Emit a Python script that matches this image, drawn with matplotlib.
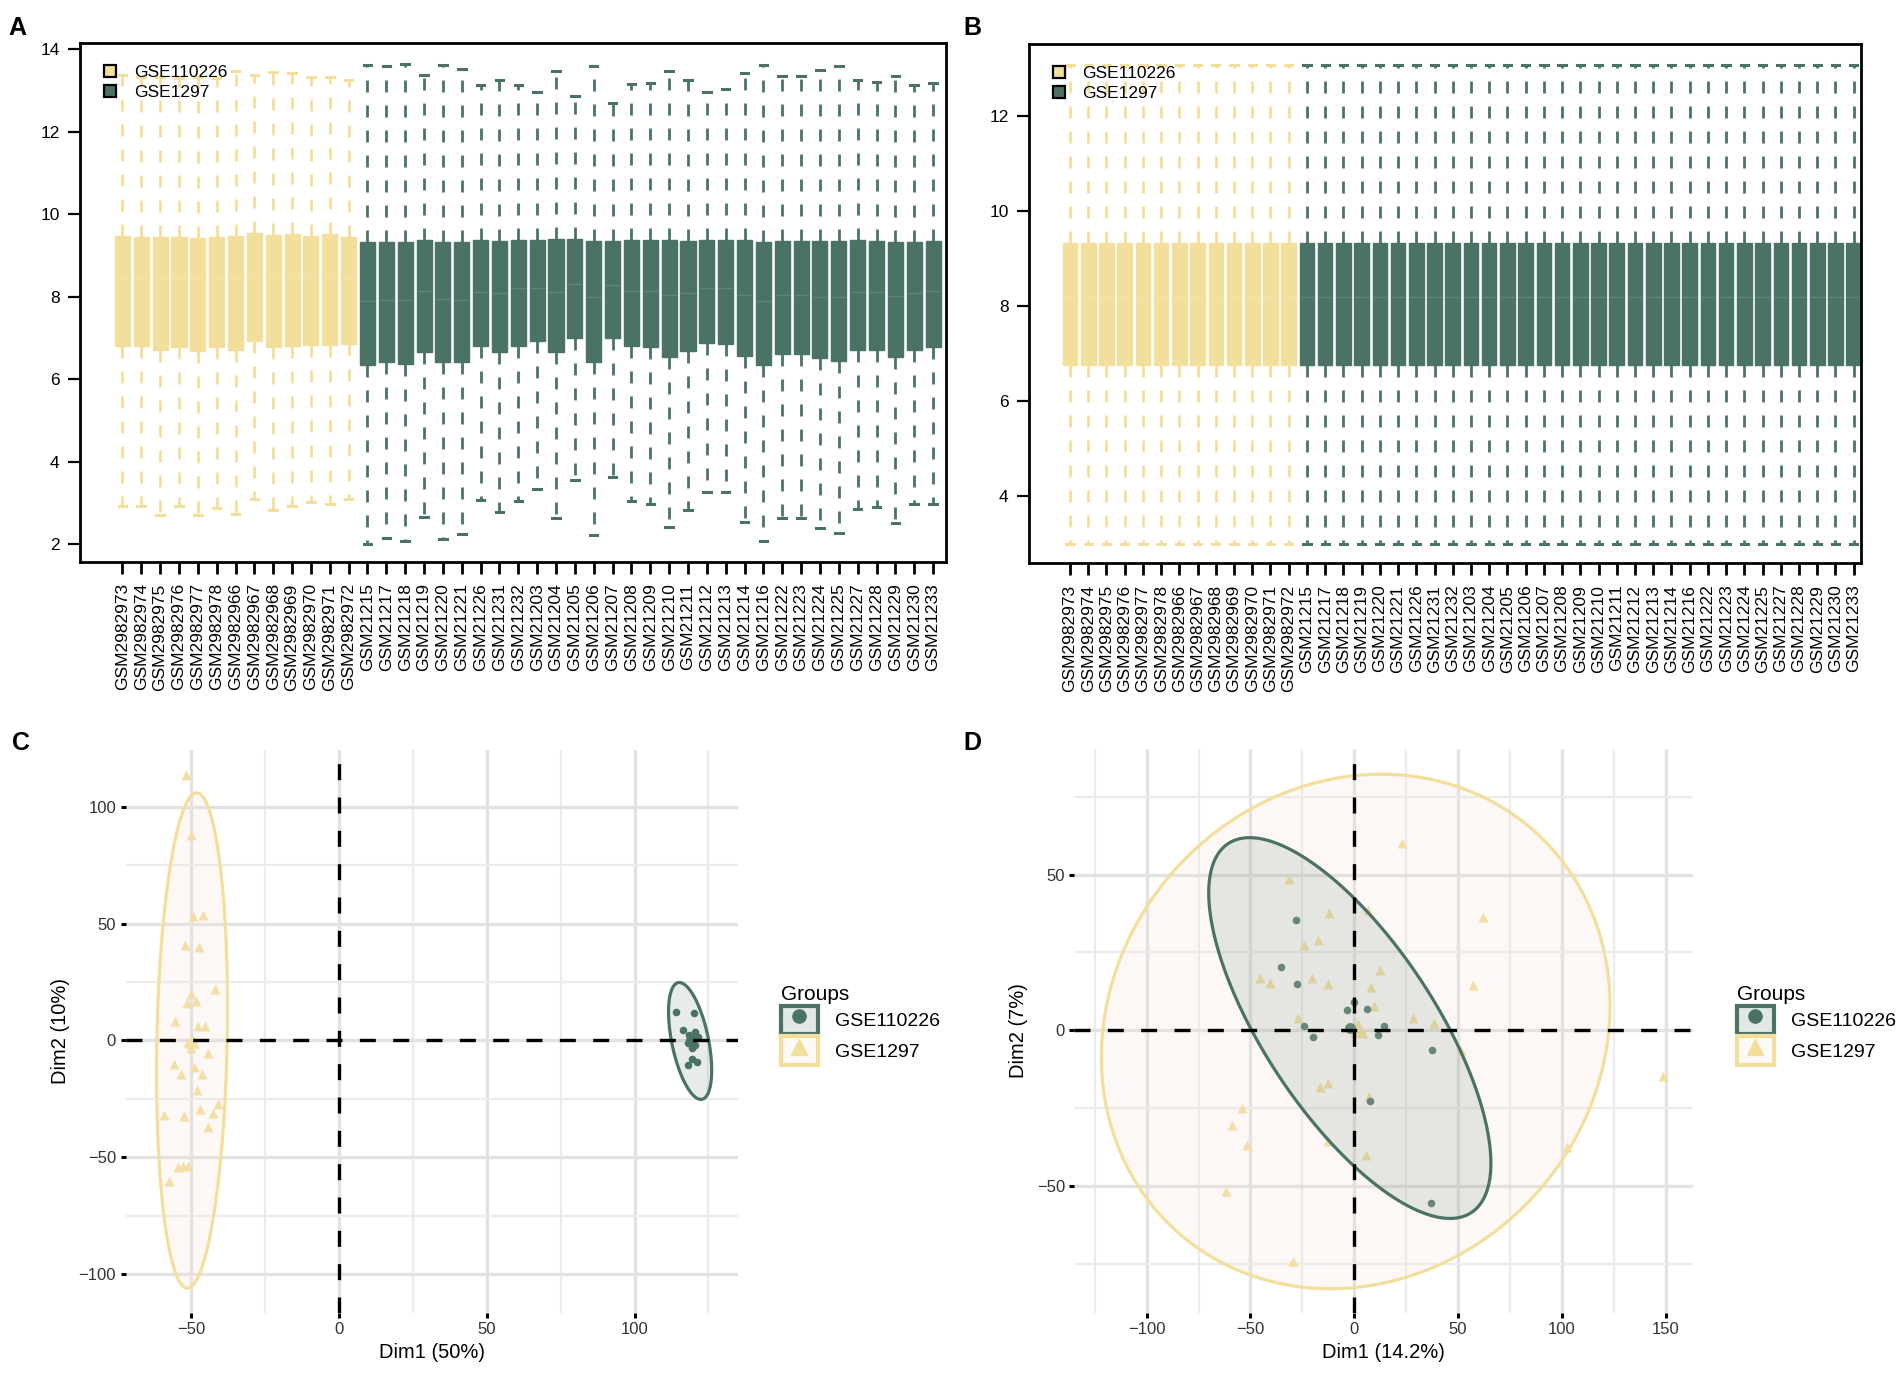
import numpy as np
import matplotlib

matplotlib.use("Agg")
import matplotlib.pyplot as plt
from matplotlib.colors import to_rgba
from matplotlib.lines import Line2D
from matplotlib.patches import Patch
from matplotlib.ticker import MultipleLocator

plt.rcParams["font.family"] = ["Liberation Sans", "DejaVu Sans"]

YELLOW = "#F3DF9C"
GREEN = "#4A7366"

# ---- sample names (same order in A and B) ----
samples_gse110226 = [
    "GSM2982973", "GSM2982974", "GSM2982975", "GSM2982976", "GSM2982977",
    "GSM2982978", "GSM2982966", "GSM2982967", "GSM2982968", "GSM2982969",
    "GSM2982970", "GSM2982971", "GSM2982972",
]
samples_gse1297 = [
    "GSM21215", "GSM21217", "GSM21218", "GSM21219", "GSM21220", "GSM21221",
    "GSM21226", "GSM21231", "GSM21232", "GSM21203", "GSM21204", "GSM21205",
    "GSM21206", "GSM21207", "GSM21208", "GSM21209", "GSM21210", "GSM21211",
    "GSM21212", "GSM21213", "GSM21214", "GSM21216", "GSM21222", "GSM21223",
    "GSM21224", "GSM21225", "GSM21227", "GSM21228", "GSM21229", "GSM21230",
    "GSM21233",
]

# ---- panel A: raw expression boxplots ----
a_y_q1 = [6.81, 6.81, 6.70, 6.78, 6.69, 6.77, 6.72, 6.92, 6.77, 6.81, 6.83, 6.83, 6.85]
a_y_med = [8.45, 8.45, 8.44, 8.45, 8.43, 8.44, 8.45, 8.55, 8.47, 8.50, 8.47, 8.50, 8.45]
a_y_q3 = [9.46, 9.45, 9.45, 9.45, 9.43, 9.44, 9.47, 9.55, 9.49, 9.51, 9.47, 9.51, 9.45]
a_y_lo = [2.92, 2.92, 2.70, 2.92, 2.70, 2.89, 2.73, 3.10, 2.84, 2.92, 3.03, 2.97, 3.10]
a_y_hi = [13.37, 13.33, 13.33, 13.30, 13.33, 13.30, 13.48, 13.37, 13.44, 13.41, 13.33, 13.33, 13.24]

a_g_q1 = [6.35, 6.41, 6.38, 6.65, 6.41, 6.43, 6.81, 6.67, 6.81, 6.92, 6.65, 7.01, 6.43, 7.01, 6.80,
          6.78, 6.54, 6.68, 6.89, 6.86, 6.57, 6.35, 6.62, 6.62, 6.51, 6.45, 6.70, 6.70, 6.54, 6.72, 6.78]
a_g_med = [7.90, 7.92, 7.92, 8.15, 7.95, 7.93, 8.12, 8.10, 8.20, 8.22, 8.12, 8.30, 8.00, 8.28, 8.15,
           8.15, 8.05, 8.10, 8.20, 8.22, 8.05, 7.90, 8.05, 8.05, 8.00, 8.00, 8.12, 8.12, 8.02, 8.10, 8.15]
a_g_q3 = [9.32, 9.32, 9.32, 9.38, 9.32, 9.32, 9.37, 9.34, 9.37, 9.37, 9.41, 9.41, 9.34, 9.34, 9.38,
          9.37, 9.37, 9.35, 9.37, 9.38, 9.37, 9.32, 9.35, 9.35, 9.34, 9.35, 9.37, 9.34, 9.32, 9.32, 9.35]
a_g_lo = [2.02, 2.16, 2.08, 2.67, 2.13, 2.24, 3.08, 2.78, 3.06, 3.35, 2.63, 3.57, 2.22, 3.64, 3.05,
          2.97, 2.43, 2.83, 3.26, 3.26, 2.54, 2.08, 2.63, 2.63, 2.40, 2.27, 2.86, 2.90, 2.52, 2.97, 2.97]
a_g_hi = [13.62, 13.59, 13.64, 13.37, 13.62, 13.51, 13.14, 13.26, 13.14, 12.95, 13.46, 12.86, 13.60,
          12.70, 13.16, 13.19, 13.48, 13.24, 12.97, 13.03, 13.43, 13.62, 13.35, 13.35, 13.49, 13.60,
          13.26, 13.21, 13.35, 13.14, 13.17]

# ---- panel B: normalised, every sample has the same summary ----
b_q1, b_med, b_q3, b_lo, b_hi = 6.74, 8.18, 9.31, 2.97, 13.06

# ---- panel C: PCA before batch correction ----
c_circ_x = [114.1, 120.2, 116.3, 118.5, 120.5, 119.5, 121.5, 118.0, 120.5, 119.5, 119.5, 121.0, 118.0]
c_circ_y = [12.4, 11.7, 4.6, 2.5, 3.5, 0.5, 1.5, -1.0, -2.0, -3.0, -8.0, -9.0, -10.5]
c_tri_x = [-51.7, -50.0, -49.4, -46.1, -52.0, -47.5, -41.9, -50.0, -51.3, -48.3, -55.6, -47.8,
           -45.3, -50.9, -49.4, -50.2, -44.4, -55.8, -48.9, -53.4, -46.4, -48.1, -59.3, -52.5,
           -46.9, -42.7, -40.8, -44.4, -54.5, -52.8, -50.9, -57.6]
c_tri_y = [113.7, 88.0, 53.1, 53.6, 41.0, 40.2, 22.2, 19.9, 16.0, 16.8, 8.4, 6.1, 6.1, -0.8, 0.0,
           -3.1, -5.4, -10.0, -11.2, -14.5, -14.5, -21.0, -31.8, -32.1, -29.1, -31.1, -27.1,
           -37.0, -54.0, -53.6, -53.6, -60.0]
# ellipses: centre x, centre y, sd x, sd y, correlation
c_ell_green = (118.8, -0.2, 7.3, 25.0, -0.5)
c_ell_yellow = (-49.7, 0.0, 12.0, 106.0, 0.13)

# ---- panel D: PCA after batch correction ----
d_circ_x = [-28.0, -35.3, -27.6, 0.0, -3.7, 6.1, -24.0, -19.7, 14.1, 11.5, 37.5, 7.5, 37.1]
d_circ_y = [35.4, 20.4, 15.0, 9.0, 6.6, 6.9, 1.3, -2.1, 1.4, -1.6, -6.2, -22.6, -55.5]
d_tri_x = [23.2, -31.6, -12.3, 6.4, 62.2, -24.0, -17.6, 12.2, -45.4, -40.4, -20.4, -12.8, 8.0,
           57.4, 9.6, -27.2, 28.5, 38.5, 1.6, 4.0, 51.6, 148.8, -16.7, -12.5, 7.3, -54.1,
           -58.7, -51.6, -12.5, 5.8, 102.6, -62.0, -29.4]
d_tri_y = [60.1, 48.7, 37.8, 38.8, 36.5, 27.4, 29.0, 19.5, 16.7, 15.3, 16.8, 14.7, 13.8, 14.5,
           7.7, 4.0, 4.0, 2.3, 2.1, -0.9, -6.2, -14.6, -18.3, -17.0, -21.1, -25.1, -30.4,
           -36.9, -35.6, -40.1, -37.6, -51.7, -74.3]
d_ell_green = (-2.15, 0.7, 67.95, 61.2, -0.71)
d_ell_yellow = (0.7, -0.4, 122.5, 82.7, 0.10)


def make_stats(q1, med, q3, lo, hi):
    return [dict(q1=a, med=b, q3=c, whislo=d, whishi=e, fliers=[])
            for a, b, c, d, e in zip(q1, med, q3, lo, hi)]


def draw_boxes(ax, stats, positions, color):
    ax.bxp(stats, positions=positions, widths=0.8, capwidths=0.4, patch_artist=True,
           showfliers=False,
           boxprops=dict(facecolor=color, edgecolor=color, linewidth=1.0),
           whiskerprops=dict(color=color, linewidth=2.0, linestyle=(0, (4.3, 4.7))),
           capprops=dict(color=color, linewidth=2.2),
           medianprops=dict(color="white", alpha=0.12, linewidth=1.0))


def box_panel(ax, ylim, yticks, labels):
    n = len(labels)
    ax.set_ylim(*ylim)
    ax.set_yticks(yticks)
    ax.set_xticks(range(1, n + 1))
    ax.set_xticklabels(labels, rotation=90, fontsize=12.5)
    ax.tick_params(axis="y", labelsize=12.5, length=8.6, width=1.6, pad=6)
    ax.tick_params(axis="x", length=8.6, width=2.0, pad=7)
    for s in ax.spines.values():
        s.set_linewidth(2.0)
    leg_handles = [Patch(facecolor=YELLOW, edgecolor="black", linewidth=1.6),
                   Patch(facecolor=GREEN, edgecolor="black", linewidth=1.6)]
    ax.legend(leg_handles, ["GSE110226", "GSE1297"], loc="upper left",
              bbox_to_anchor=(0.018, 0.975), frameon=False, fontsize=12.5,
              handlelength=0.7, handleheight=0.7, handletextpad=1.0,
              labelspacing=0.3, borderpad=0)


def ellipse_xy(params, n=240):
    cx, cy, sx, sy, r = params
    t = np.linspace(0, 2 * np.pi, n, endpoint=False)
    x = cx + sx * np.cos(t)
    y = cy + sy * (r * np.cos(t) + np.sqrt(1 - r * r) * np.sin(t))
    return x, y


def pca_panel(ax, fig, circ_x, circ_y, tri_x, tri_y, ell_g, ell_y,
              xlim, ylim, xticks, yticks, xlabel, ylabel, leg_x):
    ax.scatter(tri_x, tri_y, marker="^", s=52, color=YELLOW, linewidths=0, zorder=3)
    ax.scatter(circ_x, circ_y, marker="o", s=30, color=GREEN, linewidths=0, zorder=3)
    # group means
    ax.scatter([np.mean(tri_x)], [np.mean(tri_y)], marker="^", s=110, color=YELLOW,
               linewidths=0, zorder=3)
    ax.scatter([np.mean(circ_x)], [np.mean(circ_y)], marker="o", s=62, color=GREEN,
               linewidths=0, zorder=3)

    ex, ey = ellipse_xy(ell_y)
    ax.fill(ex, ey, facecolor=to_rgba("#F5E0D0", 0.2), edgecolor=YELLOW, lw=2.3, zorder=4)
    ex, ey = ellipse_xy(ell_g)
    ax.fill(ex, ey, facecolor=to_rgba(GREEN, 0.13), edgecolor=GREEN, lw=2.3, zorder=4)

    ax.axhline(0, color="black", lw=2.4, ls=(0, (4.8, 5.2)), zorder=5)
    ax.axvline(0, color="black", lw=2.4, ls=(0, (4.8, 5.2)), zorder=5)

    ax.set_xlim(*xlim)
    ax.set_ylim(*ylim)
    ax.set_xticks(xticks)
    ax.set_yticks(yticks)
    ax.xaxis.set_minor_locator(MultipleLocator(25))
    ax.yaxis.set_minor_locator(MultipleLocator(25))
    ax.grid(which="major", color="#E2E2E2", lw=2.4)
    ax.grid(which="minor", color="#ECECEC", lw=1.6)
    ax.set_axisbelow(True)
    for s in ax.spines.values():
        s.set_visible(False)
    ax.tick_params(which="major", length=3.8, width=2.2, color="black",
                   labelsize=12, labelcolor="#333333", pad=3)
    ax.tick_params(which="minor", length=0)
    ax.set_xlabel(xlabel, fontsize=14.5, labelpad=4)
    ax.set_ylabel(ylabel, fontsize=14.5, labelpad=6)

    handles = [
        (Patch(facecolor="#E2E8E5", edgecolor=GREEN, linewidth=3),
         Line2D([], [], marker="o", color=GREEN, linestyle="", markersize=9.5)),
        (Patch(facecolor="#FDF9F5", edgecolor=YELLOW, linewidth=3),
         Line2D([], [], marker="^", color=YELLOW, linestyle="", markersize=12)),
    ]
    ax.legend(handles, ["GSE110226", "GSE1297"], title="Groups", loc="upper left",
              bbox_to_anchor=(leg_x, 1 - 975 / 1375), bbox_transform=fig.transFigure,
              frameon=False, fontsize=14, title_fontsize=15, handlelength=1.9,
              handleheight=1.9, labelspacing=0.1, handletextpad=0.9, borderpad=0,
              alignment="left")


fig = plt.figure(figsize=(19.04, 13.75), dpi=100)
W, H = 1904, 1375


def px_axes(left, top, right, bottom):
    return fig.add_axes([left / W, 1 - bottom / H, (right - left) / W, (bottom - top) / H])


labels = samples_gse110226 + samples_gse1297
pos_y = list(range(1, len(samples_gse110226) + 1))
pos_g = list(range(len(samples_gse110226) + 1, len(labels) + 1))

# A
ax_a = px_axes(80, 43.3, 945.7, 561.7)
draw_boxes(ax_a, make_stats(a_y_q1, a_y_med, a_y_q3, a_y_lo, a_y_hi), pos_y, YELLOW)
draw_boxes(ax_a, make_stats(a_g_q1, a_g_med, a_g_q3, a_g_lo, a_g_hi), pos_g, GREEN)
box_panel(ax_a, (1.58, 14.14), [2, 4, 6, 8, 10, 12, 14], labels)
ax_a.set_xlim(-1.25, 44.67)

# B
ax_b = px_axes(1029, 44.3, 1861, 563)
ny, ng = len(pos_y), len(pos_g)
draw_boxes(ax_b, make_stats([b_q1] * ny, [b_med] * ny, [b_q3] * ny, [b_lo] * ny, [b_hi] * ny),
           pos_y, YELLOW)
draw_boxes(ax_b, make_stats([b_q1] * ng, [b_med] * ng, [b_q3] * ng, [b_lo] * ng, [b_hi] * ng),
           pos_g, GREEN)
box_panel(ax_b, (2.58, 13.5), [4, 6, 8, 10, 12], labels)
ax_b.set_xlim(-1.25, 44.4)

# C
ax_c = px_axes(125.5, 750, 738, 1313)
pca_panel(ax_c, fig, c_circ_x, c_circ_y, c_tri_x, c_tri_y, c_ell_green, c_ell_yellow,
          (-72.2, 135), (-116.6, 124.3), [-50, 0, 50, 100], [-100, -50, 0, 50, 100],
          "Dim1 (50%)", "Dim2 (10%)", 771 / W)

# D
ax_d = px_axes(1074.4, 749, 1693.3, 1313)
pca_panel(ax_d, fig, d_circ_x, d_circ_y, d_tri_x, d_tri_y, d_ell_green, d_ell_yellow,
          (-134.8, 163.3), (-90.9, 90.4), [-100, -50, 0, 50, 100, 150], [-50, 0, 50],
          "Dim1 (14.2%)", "Dim2 (7%)", 1727 / W)

for letter, x, top in [("A", 8, 16), ("B", 963, 16), ("C", 12, 731), ("D", 963, 731)]:
    fig.text(x / W, 1 - top / H, letter, fontsize=18, fontweight="bold", va="top", ha="left")

fig.savefig("out.png", dpi=100)
